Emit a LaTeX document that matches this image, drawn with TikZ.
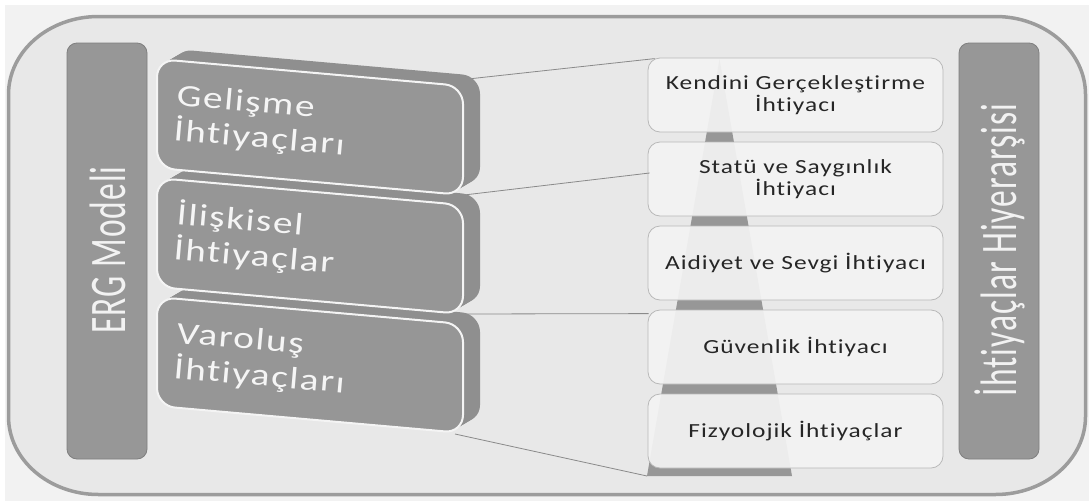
\documentclass[tikz,border=0pt]{standalone}
\usepackage{fontspec}
\usepackage{graphicx}
\setmainfont{Carlito}[Ligatures={NoCommon,NoRare,NoContextual},RawFeature={-liga;-clig;-dlig;-calt}]
\newfontfamily\cwide[FakeStretch=1.27,LetterSpace=5,Ligatures={NoCommon,NoRare,NoContextual},RawFeature={-liga;-clig;-dlig;-calt}]{Carlito}
\newfontfamily\cbar[LetterSpace=3,Ligatures={NoCommon,NoRare,NoContextual},RawFeature={-liga;-clig;-dlig;-calt}]{Carlito}
\usetikzlibrary{calc}
\definecolor{bgout}{HTML}{F2F2F2}
\definecolor{bgin}{HTML}{E8E8E8}
\definecolor{framec}{HTML}{9C9C9C}
\definecolor{barc}{HTML}{979797}
\definecolor{barline}{HTML}{7F7F7F}
\definecolor{boxg}{HTML}{969696}
\definecolor{boxback}{HTML}{8F8F8F}
\definecolor{boxedge}{HTML}{F4F4F4}
\definecolor{pyrc}{HTML}{F3F3F3}
\definecolor{pyrline}{HTML}{B8B8B8}
\definecolor{tric}{HTML}{979797}
\definecolor{connc}{HTML}{8A8A8A}
\definecolor{txtc}{HTML}{262626}
\newcommand\ergbox[4]{% #1 name, #2 y0, #3 line1, #4 line2
  \foreach \t in {1,...,10}{%
    \fill[boxback, rounded corners=18, shift={(1.7*\t,-1*\t)}]
      (157,#2) -- (463,#2+27) -- (463,#2+136) -- (157,#2+109) -- cycle;}
  \draw[fill=boxg, draw=boxedge, line width=2, rounded corners=18]
      (157,#2) -- (463,#2+27) -- (463,#2+136) -- (157,#2+109) -- cycle;
  \node[ergtext] (#1) at (176,#2+46)
    {\begin{tabular}[t]{@{}l@{}}#3\\#4\end{tabular}};
}
\begin{document}
\begin{tikzpicture}[x=1pt,y=-1pt,
  bar/.style={draw=barline, fill=barc, line width=0.8, rounded corners=10,
    minimum width=80, minimum height=416, inner sep=0},
  bartext/.style={anchor=base, rotate=90, inner sep=0, text=white!95!black,
    font=\cbar\fontsize{33.5}{38}\selectfont},
  pbox/.style={draw=pyrline, fill=pyrc, fill opacity=0.93, text opacity=1,
    line width=0.8, rounded corners=12, minimum width=295, minimum height=74,
    inner sep=0, align=center, text=txtc, font=\cwide\fontsize{20}{22}\selectfont},
  ergtext/.style={anchor=base west, rotate=-5, inner sep=0, text=white!96!black,
    font=\cwide\fontsize{31}{33}\selectfont},
  conn/.style={draw=connc, line width=0.8}]
\useasboundingbox (0,0) rectangle (1089,501);
\fill[white] (0,0) rectangle (1089,501);
\fill[bgout] (5,5) rectangle (1089,501);
% outer frame
\path[fill=bgin, draw=framec, line width=3.5]
  (98.5,16.5) -- (995.5,16.5)
  .. controls (1045.2,16.5) and (1085.5,51.4) .. (1085.5,94.5)
  -- (1085.5,416.5)
  .. controls (1085.5,459.6) and (1045.2,494.5) .. (995.5,494.5)
  -- (98.5,494.5)
  .. controls (48.8,494.5) and (8.5,459.6) .. (8.5,416.5)
  -- (8.5,94.5)
  .. controls (8.5,51.4) and (48.8,16.5) .. cycle;
% pyramid
\coordinate (apex) at (719.5,59);
\coordinate (bl) at (647,476);
\coordinate (br) at (792,476);
\fill[tric] (apex) -- (br) -- (bl) -- cycle;
\node[pbox] (k) at (795.5,95) {Kendini Gerçekleştirme\\İhtiyacı};
\node[pbox] (s) at (795.5,179) {Statü ve Saygınlık\\İhtiyacı};
\node[pbox] (a) at (795.5,263) {Aidiyet ve Sevgi İhtiyacı};
\node[pbox] (gv) at (795.5,347) {Güvenlik İhtiyacı};
\node[pbox] (f) at (795.5,431) {Fizyolojik İhtiyaçlar};
% connectors
\coordinate (c1) at (468,79);
\coordinate (c2) at (464,195);
\coordinate (c3) at (462,314);
\coordinate (c4) at (455,434);
\draw[conn] (c1) -- ($(k.north west)+(7,1)$);
\draw[conn] (c2) -- ($(s.west)+(2,-6)$);
\draw[conn] (c3) -- ($(gv.north west)+(1,4)$);
\draw[conn] (c4) -- (bl);
% bars
\node[bar] (ergbar) at (107,251) {};
\node[bar] (hbar) at (999,251) {};
\node[bartext] (ergt) at (125,250) {\scalebox{1}[1.53]{ERG Modeli}};
\node[bartext] (ht) at (1016,250) {\scalebox{1}[1.53]{İhtiyaçlar Hiyerarşisi}};
% ERG boxes
\ergbox{var}{297}{Varoluş}{İhtiyaçları}
\ergbox{ili}{178}{İlişkisel}{İhtiyaçlar}
\ergbox{gel}{59}{Gelişme}{İhtiyaçları}
\end{tikzpicture}
\end{document}
